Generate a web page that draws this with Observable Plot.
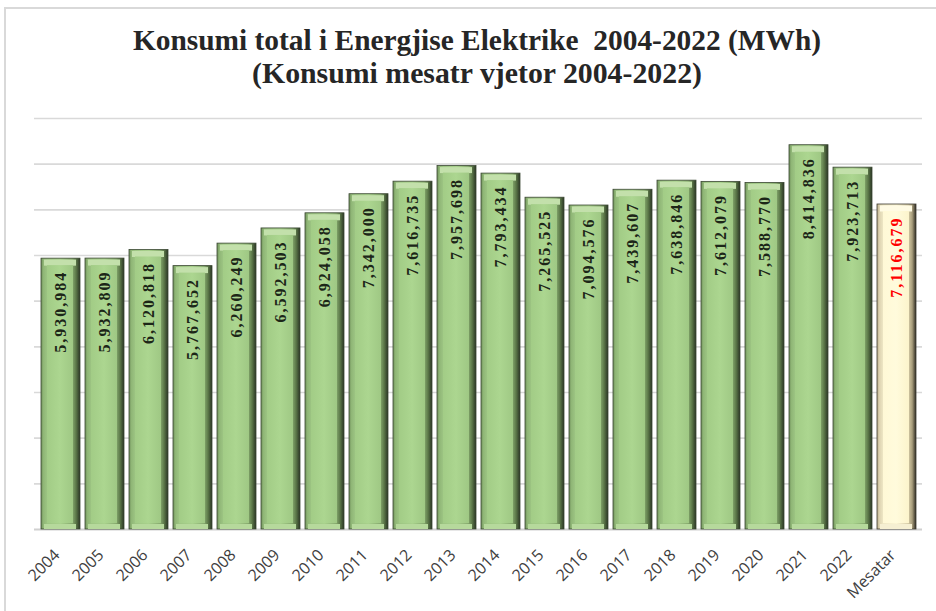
<!DOCTYPE html>
<html>
<head>
<meta charset="utf-8">
<script src="https://cdn.jsdelivr.net/npm/d3@7"></script>
<script src="https://cdn.jsdelivr.net/npm/@observablehq/plot@0.6"></script>
<style>
  html, body { margin: 0; padding: 0; background: #fff; }
  #wrap { position: relative; width: 936px; height: 611px; overflow: hidden; background: #fff; }
  #frame { position: absolute; left: 4px; top: 7px; width: 940px; height: 620px; border: 2px solid #d9d9d9; box-sizing: border-box; }
  #title { position: absolute; left: 9px; top: 0; width: 936px; height: 100px; text-align: center;
           font-family: "Liberation Serif", "Times New Roman", serif; font-weight: bold; color: #262626;
           font-size: 29.4px; line-height: 34px; white-space: pre; }
  #title .l1 { position: absolute; left: 0; width: 100%; top: 23px; }
  #title .l2 { position: absolute; left: 0; width: 100%; top: 56px; font-size: 29.8px; }
  #chart { position: absolute; left: 0; top: 100px; }
  #chart g[aria-label="text"] text { letter-spacing: 2px; }
</style>
</head>
<body>
<div id="wrap">
  <div id="frame"></div>
  <div id="title"><div class="l1">Konsumi total i Energjise Elektrike  2004-2022 (MWh)</div><div class="l2">(Konsumi mesatr vjetor 2004-2022)</div></div>
  <div id="chart"></div>
</div>
<script>
const categories = ["2004","2005","2006","2007","2008","2009","2010","2011","2012","2013","2014","2015","2016","2017","2018","2019","2020","2021","2022","Mesatar"];
const consumption = [5930984, 5932809, 6120818, 5767652, 6260249, 6592503, 6924058, 7342000, 7616735, 7957698, 7793434, 7265525, 7094576, 7439607, 7638846, 7612079, 7588770, 8414836, 7923713, 7116679];
const gridTicks = [1000000, 2000000, 3000000, 4000000, 5000000, 6000000, 7000000, 8000000, 9000000];

const rows = categories.map((c, i) => ({cat: c, value: consumption[i], label: d3.format(",")(consumption[i])}));
const yearRows = rows.filter(d => d.cat !== "Mesatar");
const avgRows = rows.filter(d => d.cat === "Mesatar");

const NS = "http://www.w3.org/2000/svg";
function defs() {
  const d = document.createElementNS(NS, "defs");
  const grads = {
    edgeG: [[0, "#6f8f5a"], [0.06, "#8fb676"], [0.16, "#9dc583"], [0.5, "#a8d18c"], [0.8, "#86aa6e"], [0.9, "#5b7748"], [1, "#2a3524"]],
    faceG: [[0, "#a2cc86"], [0.5, "#acd690"], [1, "#9fc884"]],
    edgeC: [[0, "#b8ac88"], [0.06, "#ddd3b0"], [0.16, "#efe8c6"], [0.5, "#fbf5d4"], [0.8, "#d6cca8"], [0.9, "#a99e7c"], [1, "#2f2c24"]],
    faceC: [[0, "#fff9d6"], [0.5, "#fffbdc"], [1, "#fcf4cc"]]
  };
  for (const [id, stops] of Object.entries(grads)) {
    const g = document.createElementNS(NS, "linearGradient");
    g.setAttribute("id", id);
    g.setAttribute("x1", "0"); g.setAttribute("x2", "1"); g.setAttribute("y1", "0"); g.setAttribute("y2", "0");
    for (const [o, c] of stops) {
      const s = document.createElementNS(NS, "stop");
      s.setAttribute("offset", o); s.setAttribute("stop-color", c);
      g.appendChild(s);
    }
    d.appendChild(g);
  }
  return d;
}

function barMarks(data, edge, face, topC, botC, stroke, textColor) {
  return [
    Plot.barY(data, {x: "cat", y: "value", fill: `url(#${edge})`, stroke: stroke, strokeWidth: 0.8}),
    Plot.tickY(data, {x: "cat", y: "value", stroke: topC, strokeWidth: 6, dy: 4, insetLeft: 3, insetRight: 4}),
    Plot.tickY(data, {x: "cat", y: () => 0, stroke: botC, strokeWidth: 5, dy: -3, insetLeft: 3, insetRight: 4}),
    Plot.barY(data, {x: "cat", y: "value", fill: `url(#${face})`, insetLeft: 6, insetRight: 7, insetTop: 7, insetBottom: 6}),
    Plot.text(data, {x: "cat", y: "value", text: "label", rotate: -90, textAnchor: "end", lineAnchor: "middle",
      dy: 12, dx: 0, fill: textColor, fontSize: 16, fontWeight: "bold",
      fontFamily: "'Liberation Serif', 'Times New Roman', serif"})
  ];
}

const chart = Plot.plot({
  width: 936,
  height: 511,
  marginTop: 18,
  marginBottom: 82,
  marginLeft: 34,
  marginRight: 14,
  x: {type: "band", domain: categories, paddingInner: 0.12, paddingOuter: 0.06},
  y: {domain: [0, 9000000], axis: null},
  style: {background: "transparent", overflow: "visible"},
  marks: [
    defs,
    Plot.gridY(gridTicks, {stroke: "#d9d9d9", strokeOpacity: 1, strokeWidth: 1.6}),
    Plot.ruleY([0], {stroke: "#d0d0d0", strokeWidth: 2}),
    ...barMarks(yearRows, "edgeG", "faceG", "#c3e0ab", "#b6d99c", "#3a4632", "#1c2618"),
    ...barMarks(avgRows, "edgeC", "faceC", "#fffbe4", "#f5efd2", "#3d3a30", "#ff0000"),
    Plot.axisX({tickRotate: -45, tickSize: 0, tickPadding: 8, dx: -4, dy: 15, fontSize: 16,
      fill: "#404040", fontFamily: "'Open Sans', 'Liberation Sans', sans-serif", label: null})
  ]
});
document.getElementById("chart").appendChild(chart);
</script>
</body>
</html>
